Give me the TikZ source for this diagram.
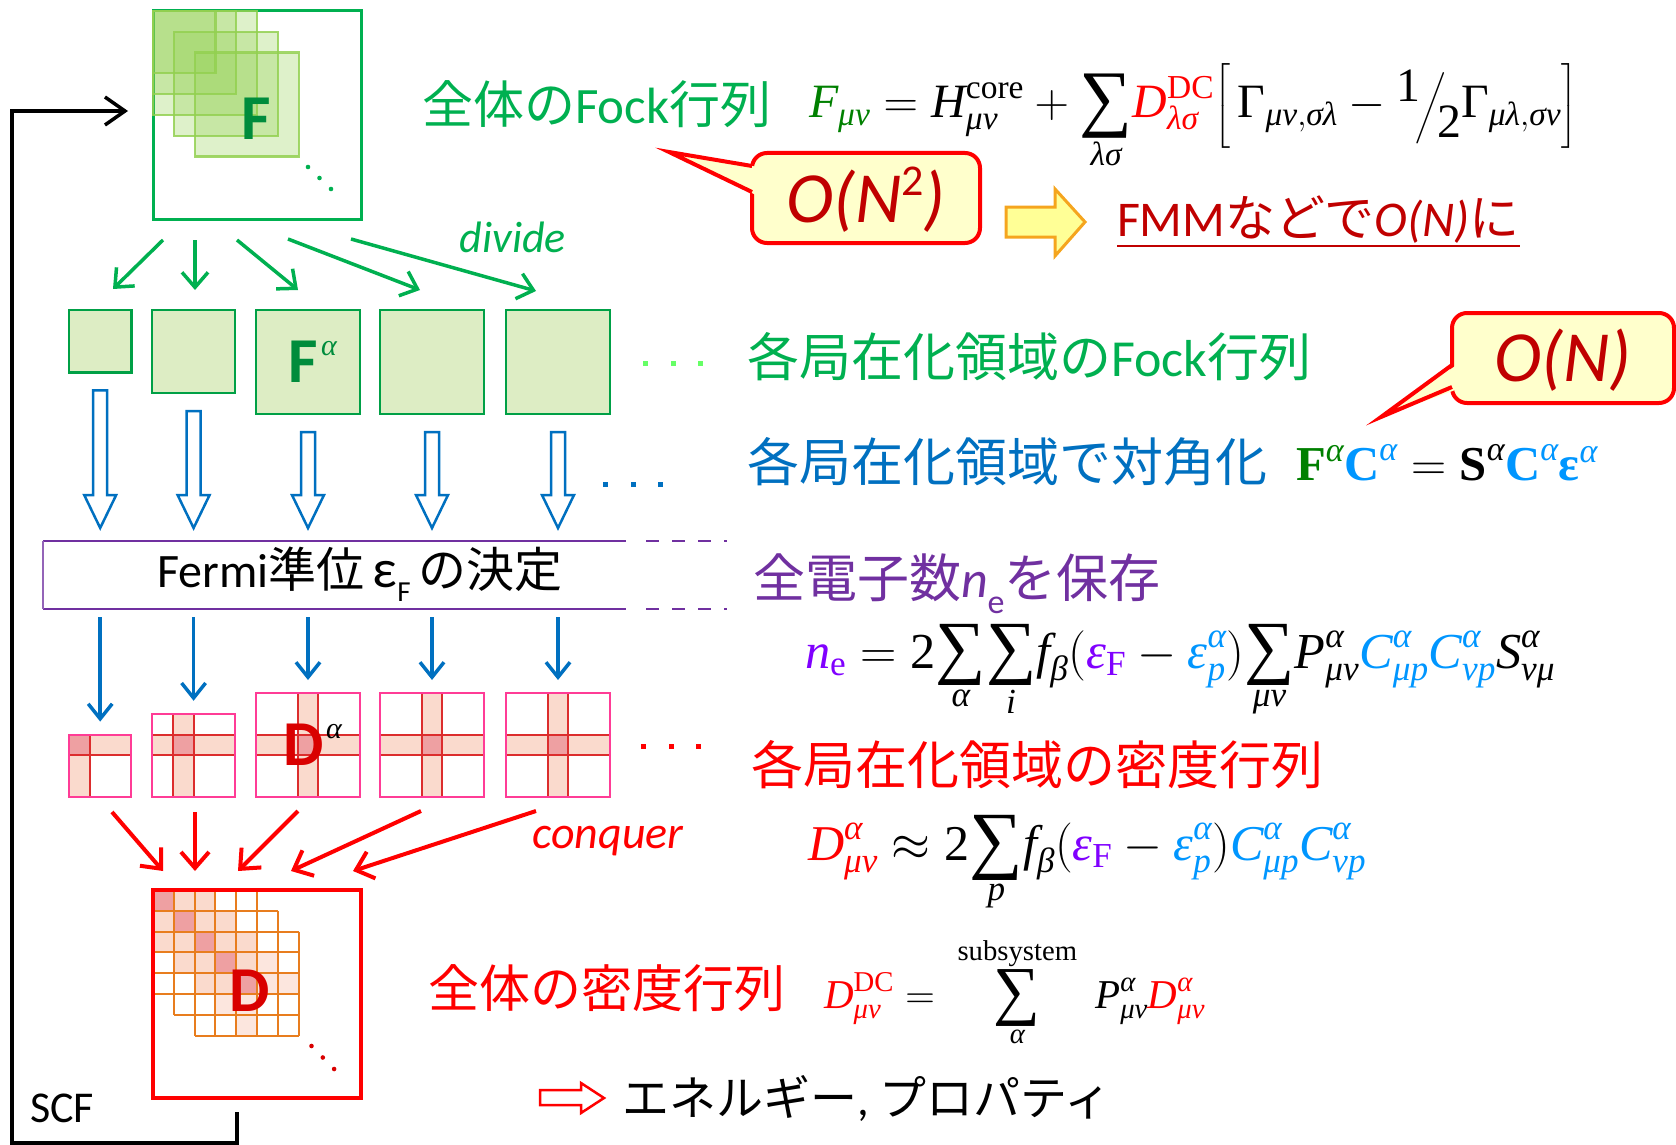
\RequirePackage{fix-cm}
\documentclass[tikz,border=0pt]{standalone}
\usepackage{amsmath}
\usepackage{graphicx}
\usepackage{fontspec}
\setmainfont{Carlito}
\newfontfamily\jp{Noto Sans CJK JP}
\newfontfamily\tms{Liberation Serif}
\usetikzlibrary{arrows.meta,calc}
\newcommand\setfs[1]{\fontsize{#1}{#1}\selectfont}
% serif letters inside formulas
\newcommand\ti[1]{\text{\tms\itshape #1}}
\newcommand\tr[1]{\text{\tms #1}}
\newcommand\tb[1]{\text{\tms\bfseries #1}}
% large summation sign with limits below and above
\newcommand\bsum[1][1.75]{\mathop{\vcenter{\hbox{\scalebox{#1}{\tms ∑}}}}\limits}
\newcommand\halfslash{\raisebox{0.35em}{\tms 1}\kern-0.1em\raisebox{-0.05em}{$\Big/$}\kern-0.18em\raisebox{-0.4em}{\tms 2}}
% hollow downward block arrow between two points on one vertical line
\newcommand\hollowdown[2]{%
  \draw[hollow] ($(#1)+(-7,0)$) -- ($(#1)+(7,0)$) -- ($(#2)+(7,-33)$) -- ($(#2)+(16,-33)$)
    -- (#2) -- ($(#2)+(-16,-33)$) -- ($(#2)+(-7,-33)$) -- cycle;}

\definecolor{gline}{RGB}{0,176,80}
\definecolor{gedge}{RGB}{0,160,70}
\definecolor{gfill}{RGB}{221,237,196}
\definecolor{gsq}{RGB}{146,208,80}
\definecolor{gdark}{RGB}{0,140,60}
\definecolor{lgreen}{RGB}{102,255,102}
\definecolor{fgreen}{RGB}{0,128,0}
\definecolor{bblue}{RGB}{0,112,192}
\definecolor{cblue}{RGB}{0,150,255}
\definecolor{ppl}{RGB}{112,48,160}
\definecolor{vio}{RGB}{128,0,255}
\definecolor{dred}{RGB}{192,0,0}
\definecolor{pinkb}{RGB}{255,60,150}
\definecolor{bandb}{RGB}{220,45,45}
\definecolor{bandf}{RGB}{250,218,205}
\definecolor{bandl}{RGB}{252,230,222}
\definecolor{coref}{RGB}{238,160,162}
\definecolor{orng}{RGB}{232,125,30}
\definecolor{cyell}{RGB}{255,255,204}
\definecolor{ayell}{RGB}{255,255,150}
\definecolor{aorng}{RGB}{245,165,30}

\begin{document}
\begin{tikzpicture}[x=1pt,y=-1pt,
  lbl/.style={inner sep=0pt, outer sep=0pt},
  gbox/.style={fill=gfill, draw=gedge, line width=2.5pt, inner sep=0pt, outer sep=0pt},
  pbox/.style={inner sep=0pt, outer sep=0pt},
  garrow/.style={draw=gline, line width=3.5pt, -{Straight Barb[length=15pt,width=26pt,line width=3.5pt]}},
  barrow/.style={draw=bblue, line width=3.5pt, -{Straight Barb[length=15pt,width=24pt,line width=3.5pt]}},
  rarrow/.style={draw=red, line width=4pt, -{Straight Barb[length=16pt,width=28pt,line width=4pt]}},
  hollow/.style={draw=bblue, fill=white, line width=2.5pt, line join=miter},
  loopline/.style={draw=black, line width=3.5pt, line join=miter},
  calloutbox/.style={fill=cyell, draw=red, line width=4pt},
  letter/.style={inner sep=0pt, font=\setfs{64}\bfseries},
  supa/.style={inner sep=0pt, font=\setfs{30}\itshape\tms}
]
\useasboundingbox (0,0) rectangle (1676,1145);

% ---------- global Fock matrix ----------
\node[draw=gline, line width=3pt, minimum size=208pt, inner sep=0pt, outer sep=0pt] (Fbig) at (257,115) {};
\foreach \o/\n in {0/3,0/4,0/5,1/5,2/5}
  \filldraw[fill=gsq, fill opacity=0.3, draw=gsq, draw opacity=0.85, line width=2.2pt]
    ($(Fbig.north west)+(\o*20.8,\o*20.8)$) rectangle ++(\n*20.8,\n*20.8);
\node[letter, text=gdark] (Fl) at (256,119) {F};
\foreach \d in {0,1,2} \fill[gline] (308+\d*11.5,167+\d*11) circle (2.3pt);

% ---------- divide ----------
\coordinate (d1) at (163,240); \coordinate (e1) at (113,289);
\coordinate (d2) at (195,240); \coordinate (e2) at (195,290);
\coordinate (d3) at (237,240); \coordinate (e3) at (298,290);
\coordinate (d4) at (288,239); \coordinate (e4) at (420,290);
\coordinate (d5) at (351,239); \coordinate (e5) at (536,291);
\foreach \i in {1,...,5} \draw[garrow] (d\i) -- (e\i);
\node[lbl, text=gline, font=\setfs{44}\itshape] (divide) at (513,237) {divide};

% ---------- local Fock and density matrices ----------
\foreach \i/\x/\n in {1/69/3,2/152/4,3/256/5,4/380/5,5/506/5}{
  \pgfmathsetmacro\s{\n*20.8}
  \node[gbox, minimum size=\s pt, anchor=north west] (g\i) at (\x,310) {};
  \node[pbox, minimum size=\s pt, anchor=south west] (p\i) at (\x,797) {};
}
\node[letter, text=gdark] (Fa) at (303,362) {F};
\node[supa, text=gdark] (Fas) at (329,349) {α};
\foreach \d in {0,1,2} \fill[lgreen] (643+\d*27.5,361) rectangle ++(5,5);

% Fermi level box
\node[lbl, minimum width=583pt, minimum height=68pt, anchor=north west] (fermi) at (43,541) {};
\draw[ppl, line width=2.5pt] (fermi.north west) -- (fermi.north east);
\draw[ppl, line width=2.5pt] (fermi.south west) -- (fermi.south east);
\draw[ppl!75, line width=1.5pt] (fermi.north west) -- (fermi.south west);
\draw[ppl, line width=2.5pt, dash pattern=on 13pt off 13pt] ($(fermi.north east)+(20,0)$) -- ++(81,0);
\draw[ppl, line width=2.5pt, dash pattern=on 13pt off 13pt] ($(fermi.south east)+(20,0)$) -- ++(81,0);
\node[lbl, font=\setfs{48}] (fermitxt) at (360,574) {Fermi{\jp 準位}\,{\setfs{54}ε}\raisebox{-0.3em}{\setfs{29}F}\,{\jp の決定}};

% diagonalisation arrows
\foreach \i in {1,...,5}{
  \coordinate (hs\i) at ($(g\i.south)+(0,18)$);
  \coordinate (he\i) at ($(g\i.south |- fermi.north)+(0,-13)$);
  \hollowdown{hs\i}{he\i}
}
\foreach \d in {0,1,2} \fill[bblue] (603+\d*27.5,482) rectangle ++(5,5);

% density matrices with cross bands
\foreach \i/\n/\k in {1/3/0,2/4/1,3/5/2,4/5/2,5/5/2}{
  \fill[white] (p\i.north west) rectangle (p\i.south east);
  \fill[bandf] ($(p\i.north west)+(0,\k*20.8)$) rectangle ($(p\i.north east)+(0,\k*20.8+20.8)$);
  \fill[bandf] ($(p\i.north west)+(\k*20.8,0)$) rectangle ($(p\i.south west)+(\k*20.8+20.8,0)$);
  \fill[coref] ($(p\i.north west)+(\k*20.8,\k*20.8)$) rectangle ++(20.8,20.8);
  \draw[bandb, line width=2pt] ($(p\i.north west)+(0,\k*20.8)$) rectangle ($(p\i.north east)+(0,\k*20.8+20.8)$);
  \draw[bandb, line width=2pt] ($(p\i.north west)+(\k*20.8,0)$) rectangle ($(p\i.south west)+(\k*20.8+20.8,0)$);
  \draw[pinkb, line width=2pt] (p\i.north west) rectangle (p\i.south east);
  \coordinate (bs\i) at ($(g\i.south |- fermi.south)+(0,8)$);
  \draw[barrow] (bs\i) -- ($(p\i.north)+(0,-13)$);
}
\node[letter, text=red!85!black] (Da) at (304,745) {D};
\node[supa, text=black] (Das) at (334,732) {α};
\foreach \d in {0,1,2} \fill[red] (641+\d*27.5,744) rectangle ++(5,5);

% ---------- conquer ----------
\node[draw=red, line width=4pt, minimum size=208pt, inner sep=0pt, outer sep=0pt] (Dbig) at (257,994) {};
\foreach \r/\c in {0/1,0/2,1/0,1/2,1/3,2/0,2/1,2/3,2/4,3/1,3/2,3/4,4/2,4/3}
  \fill[bandf] ($(Dbig.north west)+(\c*20.8,\r*20.8)$) rectangle ++(20.8,20.8);
\foreach \r/\c in {3/5,4/5,4/6,5/3,5/4,6/4}
  \fill[bandl] ($(Dbig.north west)+(\c*20.8,\r*20.8)$) rectangle ++(20.8,20.8);
\foreach \r in {0,...,4}
  \fill[coref] ($(Dbig.north west)+(\r*20.8,\r*20.8)$) rectangle ++(20.8,20.8);
\foreach \o in {0,1,2}
  \foreach \j in {0,...,5}{
    \draw[orng, line width=2pt] ($(Dbig.north west)+(\o*20.8+\j*20.8,\o*20.8)$) -- ++(0,104);
    \draw[orng, line width=2pt] ($(Dbig.north west)+(\o*20.8,\o*20.8+\j*20.8)$) -- ++(104,0);
  }
\draw[red, line width=4pt] (Dbig.north west) rectangle (Dbig.south east);
\node[letter, text=red!85!black] (Dl) at (250,991) {D};
\foreach \d in {0,1,2} \fill[red!85!black] (311.5+\d*11.3,1046+\d*11.5) circle (2.3pt);

\coordinate (r1) at (112,812); \coordinate (q1) at (163,871);
\coordinate (r2) at (195,812); \coordinate (q2) at (195,871);
\coordinate (r3) at (298,811); \coordinate (q3) at (238,871);
\coordinate (r4) at (421,811); \coordinate (q4) at (291,871);
\coordinate (r5) at (536,811); \coordinate (q5) at (353,871);
\foreach \i in {1,...,5} \draw[rarrow] (r\i) -- (q\i);
\node[lbl, text=red, font=\setfs{46}\itshape] (conquer) at (608,841) {conquer};

% ---------- SCF loop ----------
\coordinate (scfA) at ($(Dbig.south)+(-20,14)$);
\coordinate (lb) at (12,1143);
\coordinate (scfB) at (128,111);
\draw[loopline, -{Straight Barb[length=20pt,width=28pt,line width=3.5pt]}]
  (scfA) -- (scfA |- lb) -- (lb) -- (lb |- scfB) -- (scfB);
\node[lbl, font=\setfs{44}] (scf) at (62,1108) {SCF};

% ---------- right-hand texts ----------
\node[lbl, anchor=west, text=gline, font=\setfs{51}] (fockall) at (422,104) {{\jp 全体の}Fock{\jp 行列}};
\node[lbl, anchor=base west] (fockeq) at (809,118) {\resizebox{768pt}{!}{\setfs{50}$\displaystyle {\color{fgreen}\ti{F}_{\ti{μν}}} = \ti{H}^{\tr{core}}_{\ti{μν}} + \bsum[1.55]_{\ti{λσ}}\!{\color{red}\ti{D}^{\tr{DC}}_{\ti{λσ}}}\Bigl[\,\tr{Γ}_{\ti{μν},\ti{σλ}} - \halfslash\tr{Γ}_{\ti{μλ},\ti{σν}}\Bigr]$}};

% callout O(N^2)
\coordinate (t1) at (669,152);
\draw[calloutbox, rounded corners=15pt] (752,153) rectangle (980,243);
\fill[cyell] (t1) -- (758,167) -- (758,196) -- cycle;
\draw[red, line width=4pt, line join=miter] (752,166) -- (t1) -- (752,192);
\node[lbl, text=dred, font=\setfs{72}] (on2) at (866,200) {\textit{O(N}\raisebox{0.38em}{\setfs{44}2}\textit{)}};

% yellow block arrow
\draw[fill=ayell, draw=aorng, line width=3pt, line join=miter]
  (1006,207) -- (1055,207) -- (1055,189) -- (1085,222) -- (1055,256) -- (1055,237) -- (1006,237) -- cycle;
\node[lbl, anchor=base west, text=dred, font=\setfs{50}] (fmm) at (1117,236) {FMM{\jp などで}\textit{O(N)}{\jp に}};
\draw[dred, line width=2.5pt] ($(fmm.base west)+(0,10)$) -- ($(fmm.base east)+(0,10)$);

\node[lbl, anchor=west, text=gline, font=\setfs{52}] (fockloc) at (747,357) {{\jp 各局在化領域の}Fock{\jp 行列}};

% callout O(N)
\coordinate (t2) at (1381,417);
\draw[calloutbox, rounded corners=15pt] (1452,313) rectangle (1674,403);
\fill[cyell] (t2) -- (1458,364) -- (1458,389) -- cycle;
\draw[red, line width=4pt, line join=miter] (1452,365) -- (t2) -- (1452,387);
\node[lbl, text=dred, font=\setfs{72}\itshape] (on1) at (1563,360) {O(N)};

\node[lbl, anchor=west, text=bblue, font=\setfs{52}] (diag) at (747,462) {{\jp 各局在化領域で対角化}};
\node[lbl, anchor=base west] (eigeq) at (1296,480) {\resizebox{302pt}{!}{\setfs{50}${\color{fgreen}\tb{F}^{\ti{α}}}{\color{cblue}\tb{C}^{\ti{α}}} = \tb{S}^{\ti{α}}{\color{cblue}\tb{C}^{\ti{α}}\tb{ε}^{\ti{α}}}$}};

\node[lbl, anchor=west, text=ppl, font=\setfs{52}] (ntot) at (753,584) {{\jp 全電子数}\textit{n}\raisebox{-0.3em}{\setfs{34}e}{\jp を保存}};
\node[lbl, anchor=base west] (neeq) at (805,668) {\resizebox{750pt}{!}{\setfs{50}$\displaystyle {\color{vio}\ti{n}_{\tr{e}}} = \tr{2}\!\bsum[1.4]_{\ti{α}}\!\bsum[1.4]_{\ti{i}}\! \ti{f}_{\ti{β}}({\color{vio}\ti{ε}_{\tr{F}}} - {\color{cblue}\ti{ε}^{\ti{α}}_{\ti{p}}})\!\bsum[1.4]_{\ti{μν}}\!\ti{P}^{\ti{α}}_{\ti{μν}}{\color{cblue}\ti{C}^{\ti{α}}_{\ti{μp}}\ti{C}^{\ti{α}}_{\ti{νp}}}\ti{S}^{\ti{α}}_{\ti{νμ}}$}};

\node[lbl, anchor=west, text=red, font=\setfs{52}] (dloc) at (751,765) {{\jp 各局在化領域の密度行列}};
\node[lbl, anchor=base west] (dleq) at (808,860) {\resizebox{558pt}{!}{\setfs{50}$\displaystyle {\color{red}\ti{D}^{\ti{α}}_{\ti{μν}}} \approx \tr{2}\!\bsum[1.5]_{\ti{p}}\! \ti{f}_{\ti{β}}({\color{vio}\ti{ε}_{\tr{F}}} - {\color{cblue}\ti{ε}^{\ti{α}}_{\ti{p}}}){\color{cblue}\ti{C}^{\ti{α}}_{\ti{μp}}\ti{C}^{\ti{α}}_{\ti{νp}}}$}};

\node[lbl, anchor=west, text=red, font=\setfs{51}] (dall) at (428,988) {{\jp 全体の密度行列}};
\node[lbl, anchor=base west] (ddceq) at (824,1008) {\resizebox{381pt}{!}{\setfs{50}$\displaystyle {\color{red}\ti{D}^{\tr{DC}}_{\ti{μν}}} = \;\bsum[1.6]_{\ti{α}}^{\tr{subsystem}}\; \ti{P}^{\ti{α}}_{\ti{μν}}{\color{red}\ti{D}^{\ti{α}}_{\ti{μν}}}$}};

% result arrow
\draw[draw=red, fill=white, line width=2.5pt, line join=miter]
  (540,1090) -- (581,1090) -- (581,1083) -- (604,1098) -- (581,1113) -- (581,1105) -- (540,1105) -- cycle;
\node[lbl, anchor=west, font=\setfs{47}] (energy) at (622,1098) {{\jp エネルギー}, {\jp プロパティ}};
\end{tikzpicture}
\end{document}
